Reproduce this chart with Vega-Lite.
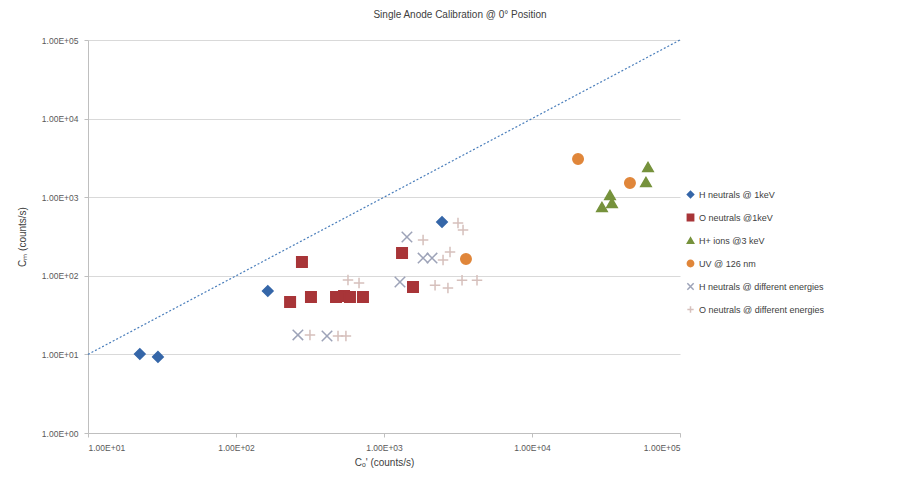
{
  "$schema": "https://vega.github.io/schema/vega-lite/v6.json",
  "width": 592,
  "height": 393,
  "autosize": {"type": "none"},
  "padding": {"left": 88, "top": 40, "right": 232, "bottom": 48},
  "background": "white",
  "config": {
    "view": {"stroke": null},
    "font": "Liberation Sans",
    "axis": {"labelFont": "Liberation Sans", "titleFont": "Liberation Sans", "labelColor": "#595959", "titleColor": "#404040", "labelFontSize": 8, "titleFontSize": 10, "titleFontWeight": "normal", "domainColor": "#BFBFBF", "tickColor": "#BFBFBF", "gridColor": "#D9D9D9", "tickSize": 4}
  },
  "title": {"text": "Single Anode Calibration @ 0° Position", "fontSize": 10, "fontWeight": "normal", "color": "#404040", "anchor": "middle", "dx": 76, "offset": 16},
  "datasets": {
    "pts": [
      {"series": "H neutrals @ 1keV", "x": 22.4, "y": 10.1},
      {"series": "H neutrals @ 1keV", "x": 29.7, "y": 9.3},
      {"series": "H neutrals @ 1keV", "x": 164, "y": 64},
      {"series": "H neutrals @ 1keV", "x": 2466, "y": 483},
      {"series": "O neutrals @1keV", "x": 232, "y": 46.4},
      {"series": "O neutrals @1keV", "x": 279, "y": 150},
      {"series": "O neutrals @1keV", "x": 321, "y": 53.7},
      {"series": "O neutrals @1keV", "x": 474, "y": 53.7},
      {"series": "O neutrals @1keV", "x": 537, "y": 55.3},
      {"series": "O neutrals @1keV", "x": 589, "y": 53.7},
      {"series": "O neutrals @1keV", "x": 721, "y": 53.7},
      {"series": "O neutrals @1keV", "x": 1324, "y": 195},
      {"series": "O neutrals @1keV", "x": 1570, "y": 72},
      {"series": "H+ ions @3 keV", "x": 29700, "y": 750},
      {"series": "H+ ions @3 keV", "x": 33650, "y": 1067},
      {"series": "H+ ions @3 keV", "x": 34700, "y": 844},
      {"series": "H+ ions @3 keV", "x": 58900, "y": 1561},
      {"series": "H+ ions @3 keV", "x": 60800, "y": 2422},
      {"series": "UV @ 126 nm", "x": 20470, "y": 3063},
      {"series": "UV @ 126 nm", "x": 45900, "y": 1517},
      {"series": "UV @ 126 nm", "x": 3580, "y": 164},
      {"series": "H neutrals @ different energies", "x": 262, "y": 17.7},
      {"series": "H neutrals @ different energies", "x": 412, "y": 17.1},
      {"series": "H neutrals @ different energies", "x": 1429, "y": 312},
      {"series": "H neutrals @ different energies", "x": 1282, "y": 83.4},
      {"series": "H neutrals @ different energies", "x": 1837, "y": 168},
      {"series": "H neutrals @ different energies", "x": 2111, "y": 168},
      {"series": "O neutrals @ different energies", "x": 316, "y": 17.7},
      {"series": "O neutrals @ different energies", "x": 489, "y": 17.1},
      {"series": "O neutrals @ different energies", "x": 553, "y": 17.1},
      {"series": "O neutrals @ different energies", "x": 571, "y": 88.4},
      {"series": "O neutrals @ different energies", "x": 678, "y": 81},
      {"series": "O neutrals @ different energies", "x": 1837, "y": 285},
      {"series": "O neutrals @ different energies", "x": 3162, "y": 470},
      {"series": "O neutrals @ different energies", "x": 3420, "y": 383},
      {"series": "O neutrals @ different energies", "x": 2506, "y": 159},
      {"series": "O neutrals @ different energies", "x": 2793, "y": 201},
      {"series": "O neutrals @ different energies", "x": 2213, "y": 76},
      {"series": "O neutrals @ different energies", "x": 2704, "y": 70},
      {"series": "O neutrals @ different energies", "x": 3367, "y": 88},
      {"series": "O neutrals @ different energies", "x": 4250, "y": 88}
    ],
    "diag": [
      {"x": 10, "y": 10},
      {"x": 100000, "y": 100000}
    ]
  },
  "layer": [
    {
      "data": {"name": "diag"},
      "mark": {"type": "line", "color": "#4A7EBB", "strokeDash": [2, 2], "strokeWidth": 1.2},
      "encoding": {
        "x": {"field": "x", "type": "quantitative", "scale": {"type": "log", "domain": [10, 100000], "nice": false},
          "axis": {"values": [10, 100, 1000, 10000, 100000], "grid": false, "title": "Cₒ' (counts/s)", "titlePadding": 6, "labelPadding": 6, "labelFontSize": 8.5, "labelExpr": "'1.00E+0' + round(log(datum.value)/LN10)"}},
        "y": {"field": "y", "type": "quantitative", "scale": {"type": "log", "domain": [1, 100000], "nice": false},
          "axis": {"values": [1, 10, 100, 1000, 10000, 100000], "grid": true, "title": "Cₘ (counts/s)", "titlePadding": 14, "labelPadding": 6, "labelFontSize": 8.5, "labelExpr": "'1.00E+0' + round(log(datum.value)/LN10)"}}
      }
    },
    {
      "data": {"name": "pts"},
      "mark": {"type": "point", "filled": true, "opacity": 1, "size": 110, "strokeWidth": 1.5},
      "encoding": {
        "x": {"field": "x", "type": "quantitative"},
        "y": {"field": "y", "type": "quantitative"},
        "fill": {"field": "series", "type": "nominal", "title": null,
          "scale": {"domain": ["H neutrals @ 1keV", "O neutrals @1keV", "H+ ions @3 keV", "UV @ 126 nm", "H neutrals @ different energies", "O neutrals @ different energies"],
            "range": ["#3566A8", "#A83538", "#76923C", "#E0863A", "#9DA3B8", "#D6C0BC"]}},
        "stroke": {"field": "series", "type": "nominal", "title": null,
          "scale": {"domain": ["H neutrals @ 1keV", "O neutrals @1keV", "H+ ions @3 keV", "UV @ 126 nm", "H neutrals @ different energies", "O neutrals @ different energies"],
            "range": ["#3566A8", "#A83538", "#76923C", "#E0863A", "#9DA3B8", "#D6C0BC"]}},
        "shape": {"field": "series", "type": "nominal", "title": null,
          "scale": {"domain": ["H neutrals @ 1keV", "O neutrals @1keV", "H+ ions @3 keV", "UV @ 126 nm", "H neutrals @ different energies", "O neutrals @ different energies"],
            "range": ["diamond", "square", "triangle-up", "circle", "M-1,-1L1,1M1,-1L-1,1", "M-1,0L1,0M0,-1L0,1"]},
          "legend": {"orient": "none", "legendX": 598, "legendY": 150, "labelFontSize": 9, "labelColor": "#404040", "symbolSize": 40, "rowPadding": 10, "labelLimit": 300}}
      }
    }
  ]
}
